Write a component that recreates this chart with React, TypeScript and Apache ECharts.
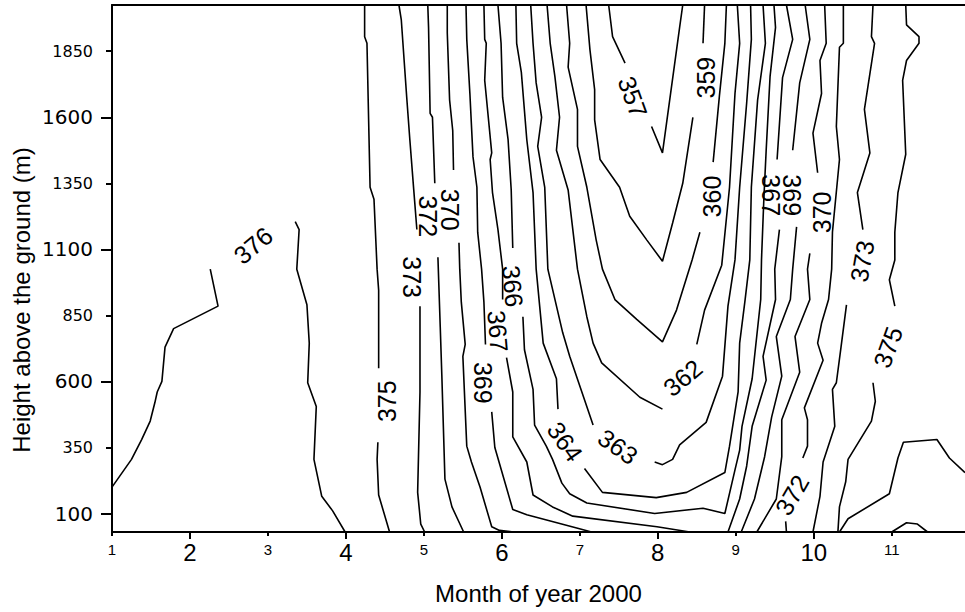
import React, { useEffect, useRef } from "react";
import * as echarts from "echarts";

// ---- axis ticks ----
const xMajorTicks = [2, 4, 6, 8, 10];
const xMinorTicks = [1, 3, 5, 7, 9, 11];
const yMajorTicks = [100, 600, 1100, 1600];
const yMinorTicks = [350, 850, 1350, 1850];
const xTitle = "Month of year 2000";
const yTitle = "Height above the ground (m)";

// ---- contour lines: [month, height (m)], each level split into segments ----
const c357 = [
  [[7.37, 2025], [7.42, 1905], [7.58, 1805]],
  [[7.92, 1565], [8.06, 1465], [8.28, 1940], [8.32, 2025]],
];
const c359 = [
  [[7.08, 2025], [7.13, 1855], [7.19, 1705], [7.19, 1590], [7.26, 1440], [7.51, 1335], [7.64, 1225], [7.86, 1135], [8.06, 1055], [8.19, 1200], [8.32, 1350], [8.45, 1600]],
  [[8.58, 1880], [8.6, 2025]],
];
const c360 = [
  [[6.83, 2025], [6.87, 1880], [6.85, 1790], [6.97, 1630], [6.97, 1490], [7.09, 1335], [7.21, 1135], [7.29, 1025], [7.45, 910], [7.73, 835], [8.06, 750], [8.24, 870], [8.44, 1060], [8.54, 1165]],
  [[8.71, 1430], [8.79, 1680], [8.86, 1880], [8.88, 2025]],
];
const c362 = [
  [[6.58, 2025], [6.62, 1880], [6.68, 1755], [6.74, 1600], [6.7, 1475], [6.85, 1325], [6.97, 1025], [7.09, 845], [7.17, 745], [7.28, 670], [7.77, 540], [8.06, 495]],
  [[8.5, 740], [8.6, 870], [8.82, 1040], [8.92, 1335], [8.99, 1690], [9.05, 1880], [9.02, 2025]],
];
const c363 = [
  [[6.37, 2025], [6.4, 1880], [6.44, 1730], [6.51, 1600], [6.46, 1490], [6.55, 1335], [6.59, 1025], [6.78, 785], [6.87, 695], [7.17, 435]],
  [[7.96, 295], [8.06, 285], [8.19, 305], [8.28, 360], [8.62, 445], [8.83, 620], [8.9, 885], [8.99, 1060], [9.05, 1335], [9.14, 1655], [9.2, 1895], [9.19, 2025]],
];
const c364 = [
  [[6.18, 2025], [6.19, 1880], [6.25, 1770], [6.32, 1515], [6.4, 1315], [6.44, 1025], [6.53, 745], [6.7, 610], [6.72, 495]],
  [[7.06, 270], [7.29, 180], [7.98, 160], [8.37, 180], [8.86, 255], [8.92, 355], [9.03, 560], [9.05, 745], [9.12, 910], [9.18, 1060], [9.2, 1335], [9.28, 1665], [9.38, 1880], [9.35, 2025]],
];
const c366 = [
  [[5.95, 2025], [5.99, 1880], [6.01, 1675], [6.08, 1515], [6.12, 1325], [6.14, 1105]],
  [[6.27, 845], [6.29, 720], [6.4, 570], [6.42, 435], [6.57, 355], [6.65, 305], [6.77, 215], [6.87, 175], [7.09, 140], [7.96, 100], [8.58, 120], [8.86, 100], [8.99, 265], [9.05, 340], [9.08, 430], [9.21, 610], [9.32, 910], [9.33, 1060], [9.36, 1290], [9.39, 1475], [9.44, 1755], [9.51, 1940], [9.49, 2025]],
];
const c367 = [
  [[5.77, 2025], [5.78, 1895], [5.8, 1880], [5.78, 1740], [5.87, 1465], [5.85, 1440], [5.88, 1315], [5.95, 1175], [6.01, 1025], [6.01, 910]],
  [[6.06, 690], [6.14, 560], [6.14, 390], [6.32, 295], [6.4, 170], [6.65, 125], [6.91, 90], [7.99, 50], [8.41, 30]],
  [[9.65, 2025], [9.73, 1895], [9.6, 1750], [9.53, 1440]],
  [[9.56, 1175], [9.5, 1025], [9.51, 910], [9.35, 695], [9.39, 605], [9.21, 430], [9.14, 280], [9.05, 155], [8.9, 30]],
];
const c369 = [
  [[5.54, 2025], [5.55, 1895], [5.59, 1690], [5.63, 1450], [5.68, 1335], [5.69, 1165], [5.74, 1025], [5.77, 900], [5.79, 740]],
  [[5.87, 485], [5.91, 350], [6.14, 115], [6.32, 95], [6.96, 45], [7.15, 30]],
  [[9.89, 2025], [9.95, 1895], [9.82, 1730], [9.73, 1475]],
  [[9.78, 1185], [9.73, 1025], [9.7, 910], [9.52, 770], [9.59, 620], [9.46, 465], [9.37, 315], [9.24, 155], [9.07, 30]],
];
const c370 = [
  [[5.3, 2025], [5.3, 1920], [5.33, 1665], [5.37, 1550], [5.38, 1400]],
  [[5.45, 1125], [5.46, 1025], [5.48, 900], [5.53, 740], [5.5, 695], [5.55, 355], [5.61, 295], [5.72, 200], [5.87, 50], [5.97, 36], [6.15, 30]],
  [[10.14, 2025], [10.16, 1880], [10.08, 1815], [10.1, 1690], [9.99, 1540], [10.05, 1390]],
  [[9.95, 1085], [9.92, 1025], [9.95, 910], [9.76, 770], [9.82, 635], [9.59, 455], [9.59, 315], [9.52, 155], [9.27, 30]],
];
const c372 = [
  [[5.05, 2025], [5.06, 1940], [5.08, 1615], [5.11, 1600], [5.14, 1350]],
  [[5.18, 1070], [5.21, 805], [5.23, 625], [5.27, 230], [5.36, 125], [5.51, 30]],
  [[10.38, 2025], [10.38, 1880], [10.33, 1865], [10.29, 1565], [10.33, 1440], [10.24, 1165], [10.23, 1025], [10.19, 910], [10.1, 820], [10.05, 745], [10.12, 680], [9.88, 500], [9.92, 455], [9.92, 355], [9.86, 310]],
  [[9.64, 70], [9.65, 30]],
];
const c373 = [
  [[4.68, 2025], [4.71, 1970], [4.78, 1675], [4.82, 1515], [4.87, 1325], [4.91, 1175]],
  [[4.95, 885], [4.95, 560], [4.92, 180], [4.96, 60], [5.01, 30]],
  [[10.76, 2025], [10.74, 1905], [10.78, 1880], [10.65, 1630], [10.72, 1465], [10.56, 1315], [10.63, 1175]],
  [[10.42, 890], [10.35, 730], [10.29, 595], [10.24, 570], [10.27, 430], [10.12, 295], [10.08, 165], [9.99, 30]],
];
const c375 = [
  [[4.24, 2025], [4.24, 1905], [4.27, 1880], [4.31, 1335], [4.36, 1290], [4.4, 1025], [4.42, 945], [4.42, 650]],
  [[4.41, 370], [4.4, 305], [4.42, 170], [4.56, 30]],
  [[11.18, 2025], [11.19, 1950], [11.35, 1905], [11.35, 1880], [11.19, 1815], [11.14, 1740], [11.18, 1460], [11.08, 1315], [11.04, 1165], [11.04, 1060], [10.97, 985], [11.04, 885]],
  [[10.76, 595], [10.79, 525], [10.74, 450], [10.44, 305], [10.41, 220], [10.33, 125], [10.31, 30]],
];
const c376 = [
  [[1.0, 200], [1.25, 305], [1.38, 380], [1.49, 450], [1.55, 520], [1.58, 560], [1.64, 600], [1.68, 730], [1.79, 800], [2.36, 885], [2.26, 1025]],
  [[3.35, 1205], [3.4, 1175], [3.37, 1025], [3.5, 890], [3.53, 745], [3.51, 595], [3.62, 505], [3.59, 305], [3.69, 165], [3.83, 110], [3.99, 30]],
  [[10.33, 30], [10.44, 80], [10.97, 175], [11.08, 310], [11.15, 370], [11.58, 380], [11.74, 310], [11.94, 255]],
];
const c377 = [
  [[11.0, 30], [11.19, 65], [11.33, 60], [11.46, 30]],
];

const contours = [c357, c359, c360, c362, c363, c364, c366, c367, c369, c370, c372, c373, c375, c376, c377];

// ---- contour labels: text, month, height, rotation (deg) ----
const labelText = ["376", "375", "373", "372", "370", "369", "367", "366", "364", "363", "362", "357", "359", "360", "367", "369", "370", "373", "375", "372"];
const labelMonth = [2.81, 4.53, 4.85, 5.05, 5.33, 5.76, 5.95, 6.14, 6.81, 7.49, 8.32, 7.68, 8.62, 8.69, 9.45, 9.72, 10.1, 10.62, 10.95, 9.72];
const labelHeight = [1115, 525, 995, 1225, 1250, 595, 790, 960, 372, 353, 614, 1677, 1750, 1300, 1305, 1305, 1240, 1055, 730, 170];
const labelRot = [40, 90, -90, -90, -90, -90, -85, -85, -55, -35, 40, -70, 90, 90, -90, -90, 90, 80, 70, 60];

const FONT = "Liberation Sans, Arial, sans-serif";
const WIDE = "DejaVu Sans, Liberation Sans, sans-serif";

export default function App() {
  const ref = useRef<HTMLDivElement>(null);
  useEffect(() => {
    document.body.style.margin = "0";
    if (!ref.current) return;
    const chart = echarts.init(ref.current, undefined, { renderer: "svg" });

    const lineSeries: any[] = [];
    contours.forEach((c) =>
      c.forEach((seg) =>
        lineSeries.push({
          type: "line",
          data: seg,
          symbol: "none",
          showSymbol: false,
          silent: true,
          xAxisIndex: 0,
          yAxisIndex: 0,
          lineStyle: { color: "#000", width: 1.6 },
          z: 2,
        })
      )
    );

    const labelData = labelText.map((t, i) => ({
      name: t,
      value: [labelMonth[i], labelHeight[i]],
      label: { rotate: labelRot[i] },
    }));

    const commonX = { type: "value", min: 1, max: 11.94, splitLine: { show: false } };
    const commonY = { type: "value", min: 30, max: 2025, splitLine: { show: false } };
    const plain = (v: number) => String(v);

    chart.setOption({
      animation: false,
      grid: { left: 112, right: 0, top: 5, bottom: 80, containLabel: false },
      xAxis: [
        {
          ...commonX,
          position: "bottom",
          axisLine: { show: true, lineStyle: { color: "#000", width: 2 } },
          axisTick: { show: true, length: 7, customValues: xMajorTicks, lineStyle: { color: "#000", width: 2 } },
          axisLabel: { customValues: xMajorTicks, formatter: plain, fontSize: 24, color: "#000", margin: 8, fontFamily: FONT },
          name: xTitle,
          nameLocation: "middle",
          nameGap: 49,
          nameTextStyle: { fontSize: 24, color: "#000", fontFamily: FONT },
        },
        {
          ...commonX,
          position: "bottom",
          axisLine: { show: false },
          axisTick: { show: true, length: 4, customValues: xMinorTicks, lineStyle: { color: "#000", width: 2 } },
          axisLabel: { customValues: xMinorTicks, formatter: plain, fontSize: 15, color: "#000", margin: 10, fontFamily: FONT },
        },
        {
          ...commonX,
          position: "top",
          axisLine: { show: true, lineStyle: { color: "#000", width: 2 } },
          axisTick: { show: false },
          axisLabel: { show: false },
        },
      ],
      yAxis: [
        {
          ...commonY,
          position: "left",
          axisLine: { show: true, lineStyle: { color: "#000", width: 2 } },
          axisTick: { show: true, length: 11, customValues: yMajorTicks, lineStyle: { color: "#000", width: 2 } },
          axisLabel: { customValues: yMajorTicks, formatter: plain, fontSize: 20, color: "#000", margin: 19, fontFamily: WIDE },
        },
        {
          ...commonY,
          position: "left",
          axisLine: { show: false },
          axisTick: { show: true, length: 6, customValues: yMinorTicks, lineStyle: { color: "#000", width: 2 } },
          axisLabel: { customValues: yMinorTicks, formatter: plain, fontSize: 16, color: "#000", margin: 19, fontFamily: WIDE },
        },
      ],
      graphic: [
        {
          type: "text",
          x: 21,
          y: 300,
          rotation: Math.PI / 2,
          style: {
            text: yTitle,
            fontSize: 24,
            fontFamily: FONT,
            fill: "#000",
            align: "center",
            verticalAlign: "middle",
          },
        },
      ],
      series: [
        ...lineSeries,
        {
          type: "scatter",
          data: labelData,
          symbolSize: 0,
          silent: true,
          xAxisIndex: 0,
          yAxisIndex: 0,
          z: 3,
          itemStyle: { opacity: 1 },
          label: {
            show: true,
            position: "inside",
            formatter: "{b}",
            fontSize: 25,
            color: "#000",
            opacity: 1,
            textBorderWidth: 0,
            fontFamily: FONT,
          },
        },
      ],
    });
    return () => chart.dispose();
  }, []);
  return <div ref={ref} style={{ width: 965, height: 612 }} />;
}
